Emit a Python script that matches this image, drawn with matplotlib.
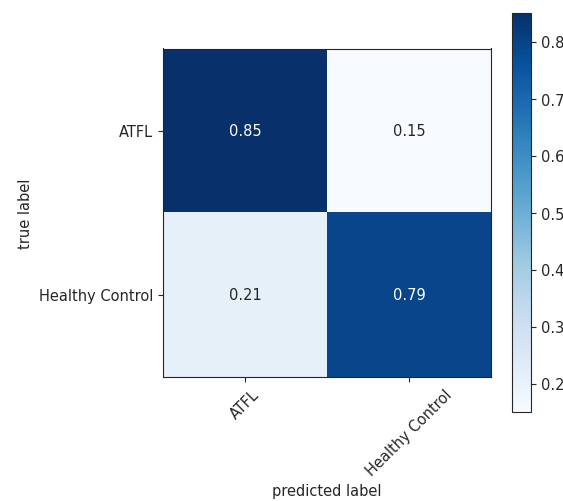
import numpy as np
import matplotlib
matplotlib.use('Agg')
import matplotlib.pyplot as plt

classes = ['ATFL', 'Healthy Control']
cm = np.array([[0.85, 0.15],
               [0.21, 0.79]])

plt.rcParams['font.size'] = 10.5
plt.rcParams['text.color'] = '#262626'
plt.rcParams['axes.labelcolor'] = '#262626'
plt.rcParams['xtick.color'] = '#262626'
plt.rcParams['ytick.color'] = '#262626'
plt.rcParams['axes.edgecolor'] = '#262626'

fig = plt.figure(figsize=(5.63, 5.02), dpi=100)
ax = fig.add_axes([163 / 563, 1 - 380 / 502, 328 / 563, 333 / 502])
cax = fig.add_axes([512 / 563, 1 - 413 / 502, 19 / 563, 399 / 502])

im = ax.imshow(cm, interpolation='nearest', cmap=plt.cm.Blues)
fig.colorbar(im, cax=cax)

ticks = np.arange(len(classes))
ax.set_xticks(ticks)
ax.set_xticklabels(classes, rotation=45)
ax.set_yticks(ticks)
ax.set_yticklabels(classes)

thresh = cm.max() / 2.
for i in range(cm.shape[0]):
    for j in range(cm.shape[1]):
        ax.text(j, i, f'{cm[i, j]:.2f}', ha='center', va='center',
                color='white' if cm[i, j] > thresh else '#262626')

ax.set_ylabel('true label')
ax.set_xlabel('predicted label')

fig.savefig('out.png', dpi=100)
